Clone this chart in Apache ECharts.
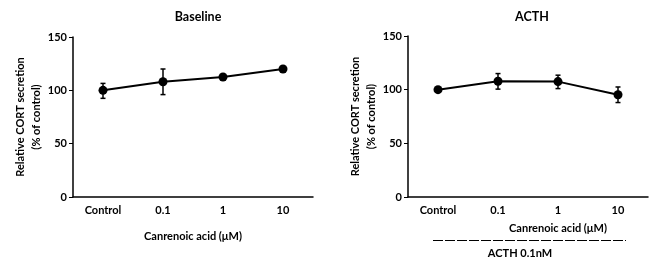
<!DOCTYPE html>
<html>
<head>
<meta charset="utf-8">
<script src="https://cdn.jsdelivr.net/npm/echarts@6/dist/echarts.min.js"></script>
<style>
  html, body { margin: 0; padding: 0; background: #fff; }
  #chart { width: 650px; height: 261px; }
</style>
</head>
<body>
<div id="chart"></div>
<script>
const categories = ['Control', '0.1', '1', '10']
const yTicks = [0, 50, 100, 150]

// Baseline panel
const baseMean = [100, 108, 112.5, 120]
const baseLow = [92.5, 96, 110.5, 118]
const baseHigh = [106.5, 120, 114.5, 122]

// ACTH panel
const acthMean = [100, 107.8, 107.5, 95.3]
const acthLow = [98.5, 100.5, 101, 88]
const acthHigh = [101.5, 115, 113.5, 102.5]

const font = 'Lato, "Open Sans", sans-serif'
const black = '#000'

const chartDom = document.getElementById('chart')
const chart = echarts.init(chartDom)

function errorData(low, high) {
  return categories.map((c, i) => [i, low[i], high[i]])
}

function errorBars(xi, yi, data) {
  return {
    type: 'custom',
    xAxisIndex: xi,
    yAxisIndex: yi,
    data: data,
    z: 3,
    renderItem: (params, api) => {
      const x = api.value(0)
      const lo = api.coord([x, api.value(1)])
      const hi = api.coord([x, api.value(2)])
      const cap = 2.5
      const style = {stroke: black, lineWidth: 1.5}
      return {
        type: 'group',
        children: [
          {type: 'line', shape: {x1: lo[0], y1: lo[1], x2: hi[0], y2: hi[1]}, style: style},
          {type: 'line', shape: {x1: lo[0] - cap, y1: lo[1], x2: lo[0] + cap, y2: lo[1]}, style: style},
          {type: 'line', shape: {x1: hi[0] - cap, y1: hi[1], x2: hi[0] + cap, y2: hi[1]}, style: style},
        ],
      }
    },
  }
}

function xAxis(gi) {
  return {
    type: 'category',
    gridIndex: gi,
    data: categories,
    boundaryGap: true,
    axisLine: {lineStyle: {color: black, width: 1.5}},
    axisTick: {alignWithLabel: true, length: 4, lineStyle: {color: black, width: 1}},
    axisLabel: {color: black, fontSize: 11, fontWeight: 'bold', fontFamily: font, margin: 8},
    splitLine: {show: false},
  }
}

function yAxis(gi) {
  return {
    type: 'value',
    gridIndex: gi,
    min: yTicks[0],
    max: yTicks[yTicks.length - 1],
    interval: 50,
    name: 'Relative CORT secretion\n(% of control)',
    nameLocation: 'middle',
    nameGap: 28,
    nameRotate: 90,
    nameTextStyle: {color: black, fontSize: 11, fontWeight: 'bold', fontFamily: font, lineHeight: 16},
    axisLine: {show: true, lineStyle: {color: black, width: 1.5}},
    axisTick: {show: true, length: 4, lineStyle: {color: black, width: 1}},
    axisLabel: {color: black, fontSize: 11, fontWeight: 'bold', fontFamily: font, margin: 6},
    splitLine: {show: false},
  }
}

function lineSeries(xi, yi, data) {
  return {
    type: 'line',
    xAxisIndex: xi,
    yAxisIndex: yi,
    data: data,
    symbol: 'circle',
    symbolSize: 9,
    itemStyle: {color: black},
    lineStyle: {color: black, width: 2},
    z: 4,
    animation: false,
  }
}

function label(text, x, y) {
  return {
    type: 'text', x: x, y: y,
    style: {text: text, font: 'bold 11px ' + font, fill: black, align: 'center', verticalAlign: 'middle'},
  }
}

const option = {
  animation: false,
  title: [
    {text: 'Baseline', left: 193, top: 5, textAlign: 'center',
      textStyle: {fontSize: 12.5, fontWeight: 'bold', fontFamily: font, color: black}},
    {text: 'ACTH', left: 527, top: 5, textAlign: 'center',
      textStyle: {fontSize: 12.5, fontWeight: 'bold', fontFamily: font, color: black}},
  ],
  grid: [
    {left: 73, top: 37, width: 240, height: 160},
    {left: 408, top: 36, width: 240, height: 161},
  ],
  xAxis: [xAxis(0), xAxis(1)],
  yAxis: [yAxis(0), yAxis(1)],
  graphic: [
    label('Canrenoic acid (μM)', 193, 236),
    label('Canrenoic acid (μM)', 558, 228),
    {type: 'line', shape: {x1: 433, y1: 240.5, x2: 626, y2: 240.5},
      style: {stroke: black, lineWidth: 1, lineDash: [10, 2]}},
    label('ACTH 0.1nM', 520, 253),
  ],
  series: [
    errorBars(0, 0, errorData(baseLow, baseHigh)),
    lineSeries(0, 0, baseMean),
    errorBars(1, 1, errorData(acthLow, acthHigh)),
    lineSeries(1, 1, acthMean),
  ],
}

option && chart.setOption(option)
</script>
</body>
</html>
